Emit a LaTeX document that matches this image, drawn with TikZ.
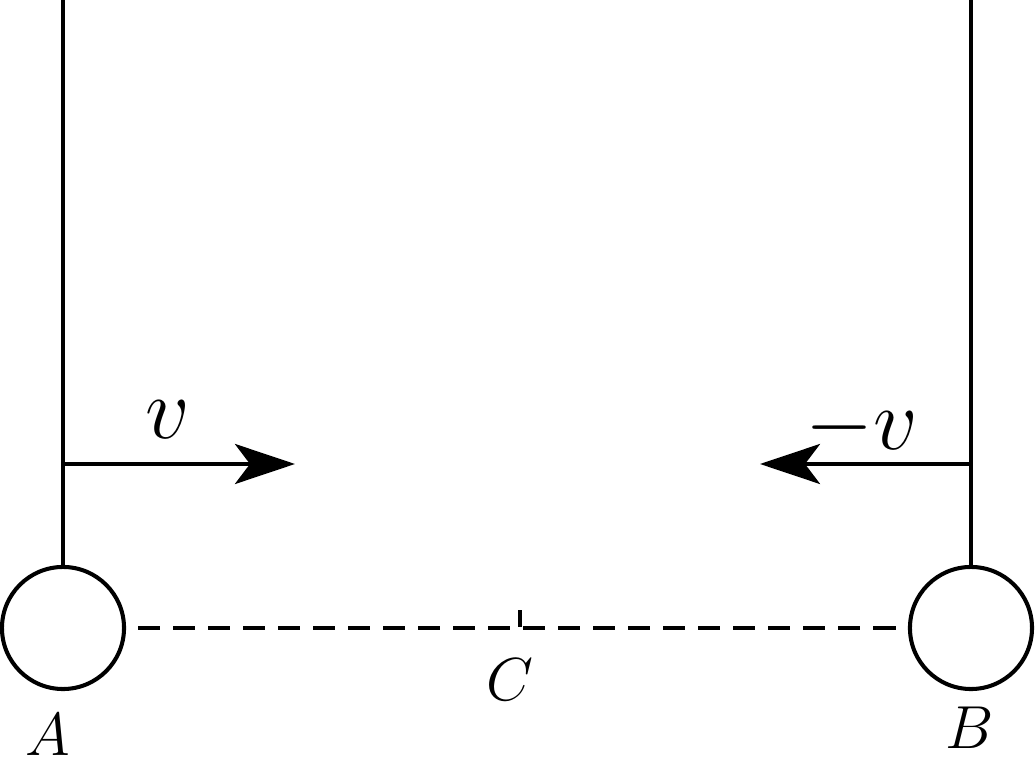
\documentclass[tikz,border=0pt]{standalone}
\usetikzlibrary{arrows.meta}
\begin{document}
\begin{tikzpicture}[x=0.01cm,y=-0.01cm,line width=1.15pt,
  ball/.style={draw,circle,minimum size=1.22cm,inner sep=0pt},
  lbl/.style={font=\fontsize{17}{20}\selectfont},
  vel/.style={font=\fontsize{24}{28}\selectfont},
  push/.style={-{Stealth[length=0.6cm,width=0.4cm,inset=0.15cm]}}]
  \useasboundingbox (0,0) rectangle (1035,776);
  \node[ball] (A) at (63,628) {};
  \node[ball] (B) at (971,628) {};
  \coordinate (Atop) at (63,0);
  \coordinate (Btop) at (971,0);
  \coordinate (Ahook) at (63,464);
  \coordinate (Bhook) at (971,464);
  \coordinate (Aend) at (295,464);
  \coordinate (Bend) at (760,464);
  \coordinate (C) at (520,627);
  \coordinate (Ctick) at (520,610);
  \draw (Atop) -- (A.north);
  \draw (Btop) -- (B.north);
  \draw[push] (Ahook) -- (Aend);
  \draw[push] (Bhook) -- (Bend);
  \draw[dashed,dash pattern=on 0.22cm off 0.13cm] (A.east)++(12,0) -- ([xshift=-0.02cm]B.west);
  \draw (C) -- (Ctick);
  \node[vel] (vA) at (168,420) {$v$};
  \node[vel] (vB) at (862,428) {$-v$};
  \node[lbl] (lA) at (48,735) {$A$};
  \node[lbl] (lB) at (970,728) {$B$};
  \node[lbl] (lC) at (510,680) {$C$};
\end{tikzpicture}
\end{document}
